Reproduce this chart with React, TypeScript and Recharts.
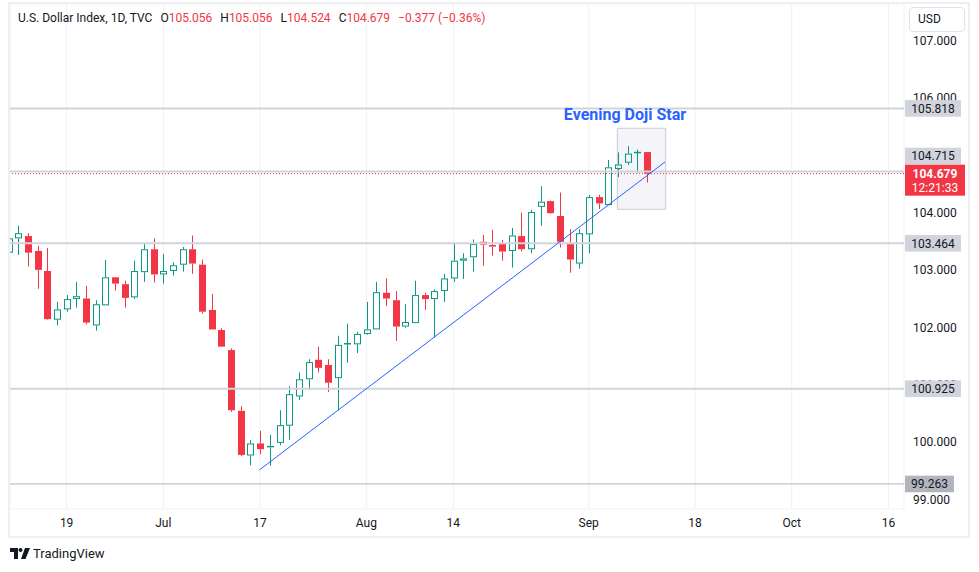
import React from 'react';
import {
  ComposedChart,
  Bar,
  XAxis,
  YAxis,
  CartesianGrid,
  ReferenceLine,
  ReferenceArea,
  ReferenceDot,
} from 'recharts';

// ---------- data ----------
const dates = [
  'Jun 9', 'Jun 12', 'Jun 13', 'Jun 14', 'Jun 15', 'Jun 16', 'Jun 19', 'Jun 20', 'Jun 21', 'Jun 22',
  'Jun 23', 'Jun 26', 'Jun 27', 'Jun 28', 'Jun 29', 'Jun 30', 'Jul 3', 'Jul 4', 'Jul 5', 'Jul 6',
  'Jul 7', 'Jul 10', 'Jul 11', 'Jul 12', 'Jul 13', 'Jul 14', 'Jul 17', 'Jul 18', 'Jul 19', 'Jul 20',
  'Jul 21', 'Jul 24', 'Jul 25', 'Jul 26', 'Jul 27', 'Jul 28', 'Jul 31', 'Aug 1', 'Aug 2', 'Aug 3',
  'Aug 4', 'Aug 7', 'Aug 8', 'Aug 9', 'Aug 10', 'Aug 11', 'Aug 14', 'Aug 15', 'Aug 16', 'Aug 17',
  'Aug 18', 'Aug 21', 'Aug 22', 'Aug 23', 'Aug 24', 'Aug 25', 'Aug 28', 'Aug 29', 'Aug 30', 'Aug 31',
  'Sep 1', 'Sep 4', 'Sep 5', 'Sep 6', 'Sep 7', 'Sep 8', 'Sep 11',
];

const opens = [
  103.3, 103.55, 103.59, 103.33, 102.98, 102.13, 102.31, 102.49, 102.5, 102.03,
  102.38, 102.87, 102.75, 102.52, 102.96, 103.36, 102.92, 102.98, 103.09, 103.36,
  103.09, 102.3, 101.95, 101.6, 100.54, 99.76, 99.97, 99.9, 99.98, 100.28,
  100.79, 101.09, 101.43, 101.34, 101.11, 101.7, 101.7, 101.88, 101.96, 102.6,
  102.47, 102.01, 102.07, 102.56, 102.49, 102.63, 102.85, 103.16, 103.22, 103.49,
  103.41, 103.45, 103.33, 103.59, 103.36, 104.1, 104.2, 103.94, 103.45, 103.11,
  103.62, 104.27, 104.13, 104.76, 104.87, 105.04, 105.056,
];
const highs = [
  103.62, 103.77, 103.64, 103.42, 103.38, 102.44, 102.56, 102.79, 102.72, 102.47,
  103.17, 102.87, 102.81, 103.16, 103.45, 103.55, 103.28, 103.13, 103.4, 103.6,
  103.18, 102.58, 101.98, 101.63, 100.62, 100.03, 100.19, 100.12, 100.55, 100.97,
  101.21, 101.44, 101.66, 101.44, 101.85, 102.06, 101.92, 102.44, 102.79, 102.85,
  102.63, 102.4, 102.81, 102.6, 102.66, 102.93, 103.47, 103.29, 103.53, 103.61,
  103.7, 103.52, 103.73, 104.0, 104.05, 104.46, 104.21, 104.35, 103.71, 103.71,
  104.31, 104.31, 104.92, 105.05, 105.16, 105.1, 105.056,
];
const lows = [
  103.25, 103.26, 103.06, 102.67, 102.13, 102.03, 102.27, 102.34, 102.05, 101.94,
  102.38, 102.64, 102.34, 102.49, 102.79, 102.78, 102.76, 102.9, 102.97, 102.93,
  102.24, 101.96, 101.66, 100.52, 99.75, 99.59, 99.78, 99.58, 99.94, 100.03,
  100.73, 100.9, 101.21, 100.87, 100.55, 101.38, 101.55, 101.87, 101.96, 102.37,
  101.76, 101.99, 102.07, 102.3, 101.82, 102.44, 102.79, 102.84, 102.97, 103.07,
  103.25, 103.16, 103.04, 103.32, 103.29, 103.77, 103.98, 103.39, 102.95, 103.02,
  103.29, 104.06, 104.13, 104.62, 104.83, 104.69, 104.524,
];
const closes = [
  103.55, 103.64, 103.3, 103.0, 102.14, 102.31, 102.49, 102.54, 102.08, 102.4,
  102.87, 102.76, 102.51, 102.98, 103.36, 102.92, 102.98, 103.08, 103.36, 103.11,
  102.27, 101.96, 101.66, 100.55, 99.77, 99.97, 99.87, 99.93, 100.29, 100.83,
  101.09, 101.39, 101.29, 101.03, 101.69, 101.72, 101.88, 101.96, 102.61, 102.5,
  102.01, 102.09, 102.56, 102.49, 102.63, 102.85, 103.16, 103.2, 103.45, 103.44,
  103.43, 103.32, 103.6, 103.36, 104.01, 104.19, 103.99, 103.49, 103.18, 103.64,
  104.27, 104.16, 104.79, 104.84, 105.03, 105.056, 104.679,
];

const xTickIndex = [6, 16, 26, 37, 46, 60, 71, 81, 91];
const xTickLabels = ['19', 'Jul', '17', 'Aug', '14', 'Sep', '18', 'Oct', '16'];
const priceTicks = [99, 100, 101, 102, 103, 104, 105, 106, 107];

const levelValues = [105.818, 104.715, 103.464, 100.925];
const levelLabelShift = [0, -15.6, 0, 0];
const bottomLevel = 99.263;
const lastPrice = 104.679;
const countdown = '12:21:33';
const trendStart = { i: 25.93, v: 99.507 };
const trendEnd = { i: 67.89, v: 104.883 };
const patternBox = { i1: 62.96, i2: 67.96, v1: 104.057, v2: 105.471 };
const patternLabel = { i: 63.75, v: 105.62, text: 'Evening Doji Star' };

const symbolTitle = 'U.S. Dollar Index, 1D, TVC';
const ohlcLetters = ['O', 'H', 'L', 'C'];
const ohlcValues = ['105.056', '105.056', '104.524', '104.679'];
const changeText = '\u22120.377 (\u22120.36%)';

// ---------- styles ----------
const GREEN = '#089981';
const RED = '#F23645';
const TEXT = '#131722';
const GRID = '#F0F1F4';
const LEVEL = '#D1D4DC';
const FONT = 'Roboto, "Noto Sans", sans-serif';

const rows = dates.map((d, i) => ({
  i,
  date: d,
  open: opens[i],
  high: highs[i],
  low: lows[i],
  close: closes[i],
  range: [lows[i], highs[i]],
  up: i === 0 ? closes[i] >= opens[i] : closes[i] >= closes[i - 1],
}));

const Candle = (props: any) => {
  const { x, width, payload } = props;
  let { y, height } = props;
  if (height < 0) {
    y = y + height;
    height = -height;
  }
  const { open, close, high, low, up } = payload;
  const color = up ? GREEN : RED;
  const cx = Math.round(x + width / 2) + 0.5;
  const span = high - low;
  const k = span > 0 ? height / span : 0;
  const py = (v: number) => y + (high - v) * k;
  const top = py(Math.max(open, close));
  const bot = py(Math.min(open, close));
  const hollow = close > open;
  const bodyH = bot - top;
  const els: any[] = [];
  els.push(<line key="wu" x1={cx} x2={cx} y1={py(high)} y2={top} stroke={color} strokeWidth={1} />);
  els.push(<line key="wd" x1={cx} x2={cx} y1={bot} y2={py(low)} stroke={color} strokeWidth={1} />);
  if (bodyH < 2) {
    els.push(<line key="b" x1={cx - 3.5} x2={cx + 3.5} y1={(top + bot) / 2} y2={(top + bot) / 2} stroke={color} strokeWidth={1.5} />);
  } else if (hollow) {
    els.push(<rect key="b" x={cx - 3} y={top + 0.5} width={6} height={bodyH - 1} fill="none" stroke={color} strokeWidth={1} />);
  } else {
    els.push(<rect key="b" x={cx - 3.5} y={top} width={7} height={bodyH} fill={color} />);
  }
  return <g>{els}</g>;
};

const TimeTick = (props: any) => {
  const { x, payload } = props;
  const idx = xTickIndex.indexOf(payload.value);
  return (
    <text x={x} y={527} fontSize={12} fontFamily={FONT} fill={TEXT} textAnchor="middle">
      {idx >= 0 ? xTickLabels[idx] : ''}
    </text>
  );
};

const priceTickLabel = (value: number) => (props: any) => {
  const vb = props.viewBox || {};
  const right = (vb.x || 0) + (vb.width || 0);
  return (
    <text x={right + 9} y={vb.y || 0} dy={4.5} fontSize={12} fontFamily={FONT} fill={TEXT} textAnchor="start">
      {value.toFixed(3)}
    </text>
  );
};

const levelLabel = (value: number, shift: number, bg: string, w: number) => (props: any) => {
  const vb = props.viewBox || {};
  const right = (vb.x || 0) + (vb.width || 0);
  const cy = (vb.y || 0) + shift;
  return (
    <g>
      <rect x={right + 1} y={cy - 8.3} width={w} height={16.6} fill={bg} />
      <text x={right + 1 + w / 2} y={cy} dy={4.3} fontSize={12} fontFamily={FONT} fill={TEXT} textAnchor="middle">
        {value.toFixed(3)}
      </text>
    </g>
  );
};

const priceLabel = (props: any) => {
  const vb = props.viewBox || {};
  const right = (vb.x || 0) + (vb.width || 0);
  const cy = vb.y || 0;
  return (
    <g>
      <rect x={right + 1} y={cy - 9} width={60} height={31} fill={RED} />
      <text x={right + 31} y={cy} dy={4.5} fontSize={12} fontWeight={700} fontFamily={FONT} fill="#FFFFFF" textAnchor="middle">
        {lastPrice.toFixed(3)}
      </text>
      <text x={right + 31} y={cy + 14} dy={4.5} fontSize={12} fontFamily={FONT} fill="#FFFFFF" textAnchor="middle">
        {countdown}
      </text>
    </g>
  );
};

const PatternText = (props: any) => {
  const { cx, cy } = props;
  return (
    <text x={cx} y={cy} fontSize={16} fontWeight={700} fontFamily={FONT} fill="#2962FF" textAnchor="middle">
      {patternLabel.text}
    </text>
  );
};

const Logo = () => (
  <svg width={20} height={11} viewBox="0 0 20 11" style={{ display: 'block' }}>
    <path d="M0 0 H8 V11 H4 V4 H0 Z" fill={TEXT} />
    <circle cx={10.5} cy={2} r={2} fill={TEXT} />
    <path d="M15 0 H20 L15.5 11 H11 Z" fill={TEXT} />
  </svg>
);

export default function App() {
  return (
    <div style={{ position: 'absolute', left: 0, top: 0, width: 979, height: 572, background: '#FFFFFF', overflow: 'hidden' }}>
      <div
        style={{
          position: 'absolute',
          left: 8,
          top: 2,
          width: 962,
          height: 536,
          border: '2px solid #EDEFF3',
          boxSizing: 'border-box',
        }}
      />
      <div style={{ position: 'absolute', left: 0, top: 0 }}>
        <ComposedChart
          width={979}
          height={572}
          data={rows}
          margin={{ top: 4, right: 0, bottom: 35, left: 10 }}
        >
          <CartesianGrid stroke={GRID} strokeWidth={1} />
          <XAxis
            dataKey="i"
            type="number"
            domain={[0.142, 92.61]}
            allowDataOverflow
            ticks={xTickIndex}
            interval={0}
            height={28}
            axisLine={false}
            tickLine={false}
            tick={<TimeTick />}
          />
          <YAxis
            orientation="right"
            type="number"
            domain={[98.8258, 107.6406]}
            allowDataOverflow
            ticks={priceTicks}
            interval={0}
            width={75}
            axisLine={false}
            tickLine={false}
            tick={false}
          />
          {priceTicks.map((t) => (
            <ReferenceLine key={'t' + t} y={t} stroke="none" label={priceTickLabel(t)} />
          ))}
          <ReferenceArea
            x1={patternBox.i1}
            x2={patternBox.i2}
            y1={patternBox.v1}
            y2={patternBox.v2}
            fill="#7B7BB0"
            fillOpacity={0.08}
            stroke="#C9CAD6"
            strokeWidth={1}
          />
          <Bar dataKey="range" barSize={8} shape={<Candle />} isAnimationActive={false} />
          <ReferenceLine
            y={bottomLevel}
            stroke="#B2B5BE"
            strokeWidth={1}
            label={levelLabel(bottomLevel, 0, '#B2B5BE', 49)}
          />
          {levelValues.map((v, k) => (
            <ReferenceLine
              key={v}
              y={v}
              stroke={LEVEL}
              strokeWidth={2}
              label={levelLabel(v, levelLabelShift[k], LEVEL, 56)}
            />
          ))}
          <ReferenceLine
            y={lastPrice}
            stroke={RED}
            strokeWidth={1}
            strokeDasharray="1 2"
            label={priceLabel}
          />
          <ReferenceLine
            segment={[
              { x: trendStart.i, y: trendStart.v },
              { x: trendEnd.i, y: trendEnd.v },
            ]}
            stroke="#2962FF"
            strokeWidth={1}
          />
          <ReferenceDot x={patternLabel.i} y={patternLabel.v} r={0} shape={<PatternText />} />
        </ComposedChart>
      </div>
      <div
        style={{
          position: 'absolute',
          left: 18,
          top: 9,
          fontFamily: FONT,
          fontSize: 12,
          color: TEXT,
          whiteSpace: 'nowrap',
          lineHeight: '18px',
        }}
      >
        <span>{symbolTitle}</span>
        {ohlcLetters.map((l, k) => (
          <span key={l} style={{ marginLeft: 8 }}>
            {l}
            <span style={{ color: RED }}>{ohlcValues[k]}</span>
          </span>
        ))}
        <span style={{ marginLeft: 8, color: RED }}>{changeText}</span>
      </div>
      <div
        style={{
          position: 'absolute',
          left: 909,
          top: 7,
          width: 56,
          height: 25,
          border: '1px solid #E0E3EB',
          borderRadius: 4,
          boxSizing: 'border-box',
          fontFamily: FONT,
          fontSize: 12,
          color: TEXT,
          lineHeight: '23px',
          paddingLeft: 8,
        }}
      >
        USD
      </div>
      <div
        style={{
          position: 'absolute',
          left: 10,
          top: 546,
          display: 'flex',
          alignItems: 'center',
          gap: 3,
          fontFamily: FONT,
          fontSize: 13,
          color: TEXT,
        }}
      >
        <Logo />
        <span>TradingView</span>
      </div>
    </div>
  );
}
